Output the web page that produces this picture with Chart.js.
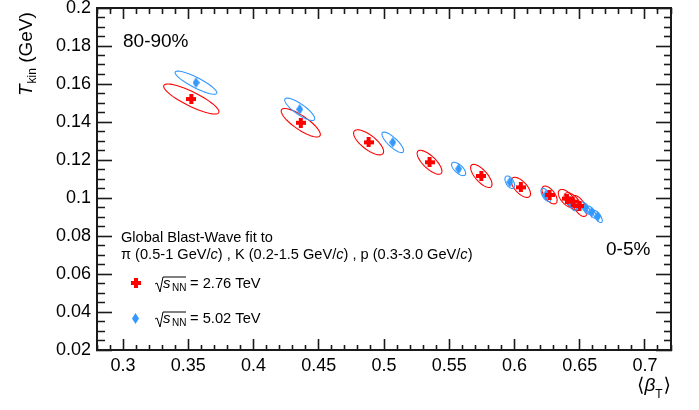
<!DOCTYPE html>
<html>
<head>
<meta charset="utf-8">
<script src="https://cdn.jsdelivr.net/npm/chart.js@4.4.1/dist/chart.umd.min.js"></script>
<style>
    html, body { margin: 0; padding: 0; background: #fff; }
</style>
</head>
<body>
<canvas id="chart" width="699" height="410"></canvas>
<script>
// 2.76 TeV (red crosses): <beta_T>, T_kin and fit-contour widths
const redBeta = [0.3523, 0.4362, 0.4882, 0.5349, 0.5746, 0.6049, 0.6269, 0.6402, 0.6446, 0.6498];
const redTkin = [0.1521, 0.1396, 0.1293, 0.1188, 0.1116, 0.1056, 0.1016, 0.0997, 0.0981, 0.0958];
const redSigBeta = [0.0212, 0.0150, 0.0115, 0.0095, 0.0082, 0.0074, 0.0058, 0.0066, 0.0065, 0.0058];
const redSigT = [0.0079, 0.0075, 0.0066, 0.0063, 0.0061, 0.0053, 0.0047, 0.0048, 0.0047, 0.0055];
const redRho = [-0.85, -0.82, -0.73, -0.74, -0.72, -0.64, -0.60, -0.60, -0.60, -0.60];

// 5.02 TeV (blue diamonds)
const blueBeta = [0.3559, 0.4354, 0.5067, 0.5572, 0.5964, 0.6241, 0.6438, 0.6546, 0.6592, 0.6638];
const blueTkin = [0.1607, 0.1467, 0.1293, 0.1153, 0.1083, 0.1016, 0.0972, 0.0947, 0.0926, 0.0903];
const blueSigBeta = [0.0160, 0.0115, 0.0083, 0.0054, 0.0037, 0.0038, 0.0038, 0.0035, 0.0035, 0.0035];
const blueSigT = [0.0061, 0.0059, 0.0054, 0.0035, 0.0033, 0.0035, 0.0039, 0.0032, 0.0032, 0.0032];
const blueRho = [-0.87, -0.83, -0.81, -0.65, -0.50, -0.60, -0.70, -0.70, -0.70, -0.70];

// axis ticks (labelled majors)
const xTicks = [0.3, 0.35, 0.4, 0.45, 0.5, 0.55, 0.6, 0.65, 0.7];
const xTickLabels = ['0.3', '0.35', '0.4', '0.45', '0.5', '0.55', '0.6', '0.65', '0.7'];
const yTicks = [0.02, 0.04, 0.06, 0.08, 0.1, 0.12, 0.14, 0.16, 0.18, 0.2];
const yTickLabels = ['0.02', '0.04', '0.06', '0.08', '0.1', '0.12', '0.14', '0.16', '0.18', '0.2'];

// all tick marks, majors plus minors
const xAllTicks = Array.from({ length: 45 }, (_, k) => +(0.28 + k * 0.01).toFixed(2));
const yAllTicks = Array.from({ length: 37 }, (_, k) => +(0.02 + k * 0.005).toFixed(3));

const RED = '#ff0000';
const BLUE = '#3399ff';
const FONT = '"Liberation Sans", Arial, Helvetica, sans-serif';

const findTick = (list, v) => list.findIndex(t => Math.abs(t - v) < 1e-9);

function makeCross(color) {
    const c = document.createElement('canvas');
    c.width = 10; c.height = 10;
    const g = c.getContext('2d');
    g.fillStyle = color;
    g.fillRect(0, 3, 10, 4);
    g.fillRect(3, 0, 4, 10);
    return c;
}

function makeDiamond(color) {
    const c = document.createElement('canvas');
    c.width = 7; c.height = 11;
    const g = c.getContext('2d');
    g.fillStyle = color;
    g.beginPath();
    g.moveTo(3.5, 0); g.lineTo(7, 5.5); g.lineTo(3.5, 11); g.lineTo(0, 5.5);
    g.closePath();
    g.fill();
    return c;
}

const crossImg = makeCross(RED);
const diamondImg = makeDiamond(BLUE);

function toPoints(xs, ys) {
    return xs.map((v, i) => ({ x: v, y: ys[i] }));
}

// inward tick marks: negative tickLength, minors shortened with a dash
function tickGrid(len, majors, minorDash) {
    return {
        display: true,
        drawOnChartArea: false,
        drawTicks: true,
        tickLength: -len,
        color: '#1a1a1a',
        tickColor: '#1a1a1a',
        tickWidth: 1.6,
        tickBorderDash: (c) => (c.tick && findTick(majors, c.tick.value) >= 0) ? [] : minorDash
    };
}

const frameBorder = { display: true, color: '#1a1a1a', width: 2 };

// fit contours drawn through the chart scales
const contours = {
    id: 'contours',
    beforeDatasetsDraw(chart) {
        const { ctx, chartArea: a, scales: { x, y } } = chart;
        const sets = [
            [redBeta, redTkin, redSigBeta, redSigT, redRho, RED],
            [blueBeta, blueTkin, blueSigBeta, blueSigT, blueRho, BLUE]
        ];
        ctx.save();
        ctx.beginPath();
        ctx.rect(a.left, a.top, a.right - a.left, a.bottom - a.top);
        ctx.clip();
        ctx.lineWidth = 1.1;
        sets.forEach(([bx, ty, sb, st, rho, col]) => {
            ctx.strokeStyle = col;
            bx.forEach((cx, i) => {
                const r = rho[i];
                const q = Math.sqrt(1 - r * r);
                ctx.beginPath();
                for (let k = 0; k <= 72; k++) {
                    const t = k / 72 * Math.PI * 2;
                    const vx = cx + sb[i] * Math.cos(t);
                    const vy = ty[i] + st[i] * (r * Math.cos(t) + q * Math.sin(t));
                    const px = x.getPixelForValue(vx);
                    const py = y.getPixelForValue(vy);
                    if (k === 0) ctx.moveTo(px, py); else ctx.lineTo(px, py);
                }
                ctx.closePath();
                ctx.stroke();
            });
        });
        ctx.restore();
    }
};

function drawRuns(ctx, x, y, runs) {
    runs.forEach(([text, font]) => {
        ctx.font = font;
        ctx.fillText(text, x, y);
        x += ctx.measureText(text).width;
    });
    return x;
}

function drawSqrtEntry(ctx, x, base, label) {
    ctx.strokeStyle = '#000';
    ctx.lineWidth = 1;
    ctx.beginPath();
    ctx.moveTo(x, base - 4);
    ctx.lineTo(x + 2, base - 5);
    ctx.lineTo(x + 5, base + 4);
    ctx.lineTo(x + 8, base - 11);
    ctx.lineTo(x + 31, base - 11);
    ctx.stroke();
    ctx.fillStyle = '#000';
    ctx.font = 'italic 15px ' + FONT;
    ctx.fillText('s', x + 8, base);
    ctx.font = '10px ' + FONT;
    ctx.fillText('NN', x + 17, base + 3);
    ctx.font = '14.7px ' + FONT;
    ctx.fillText('= ' + label, x + 35, base);
}

// titles and the text boxes
const decorations = {
    id: 'decorations',
    afterDraw(chart) {
        const ctx = chart.ctx;
        ctx.save();
        ctx.fillStyle = '#000';
        ctx.textAlign = 'left';
        ctx.textBaseline = 'alphabetic';

        // y title
        ctx.save();
        ctx.translate(32, 96);
        ctx.rotate(-Math.PI / 2);
        let tx = drawRuns(ctx, 0, 0, [['T', 'italic 19px ' + FONT]]);
        ctx.font = '12px ' + FONT;
        ctx.fillText('kin', tx + 1, 4);
        tx += ctx.measureText('kin').width + 1;
        ctx.font = '19px ' + FONT;
        ctx.fillText(' (GeV)', tx, 0);
        ctx.restore();

        // x title
        let bx = 637;
        ctx.font = '19px "DejaVu Sans", ' + FONT;
        ctx.fillText('\u27E8', bx, 391);
        bx += ctx.measureText('\u27E8').width;
        ctx.font = 'italic 19px ' + FONT;
        ctx.fillText('\u03B2', bx, 391);
        bx += ctx.measureText('\u03B2').width;
        ctx.font = '12px ' + FONT;
        ctx.fillText('T', bx, 398);
        bx += ctx.measureText('T').width + 1;
        ctx.font = '19px "DejaVu Sans", ' + FONT;
        ctx.fillText('\u27E9', bx, 391);

        // centrality labels
        ctx.font = '19px ' + FONT;
        ctx.fillText('80-90%', 123, 47);
        ctx.fillText('0-5%', 606, 255);

        // legend
        ctx.font = '14.6px ' + FONT;
        ctx.fillText('Global Blast-Wave fit to', 121, 242);
        const up = '14.6px ' + FONT;
        const it = 'italic 14.6px ' + FONT;
        drawRuns(ctx, 121, 259, [
            ['\u03C0 (0.5-1 GeV/', up], ['c', it], [') , K (0.2-1.5 GeV/', up], ['c', it],
            [') , p (0.3-3.0 GeV/', up], ['c', it], [')', up]
        ]);
        ctx.drawImage(crossImg, 131, 278);
        ctx.drawImage(diamondImg, 132, 313);
        drawSqrtEntry(ctx, 155, 288, '2.76 TeV');
        drawSqrtEntry(ctx, 155, 323, '5.02 TeV');
        ctx.restore();
    }
};

new Chart(document.getElementById('chart'), {
    type: 'scatter',
    data: {
        datasets: [{
            label: '2.76 TeV',
            data: toPoints(redBeta, redTkin),
            pointStyle: crossImg,
            showLine: false
        }, {
            label: '5.02 TeV',
            data: toPoints(blueBeta, blueTkin),
            pointStyle: diamondImg,
            showLine: false
        }]
    },
    options: {
        responsive: false,
        animation: false,
        layout: { padding: 0 },
        plugins: {
            legend: { display: false },
            tooltip: { enabled: false }
        },
        scales: {
            x: {
                type: 'linear',
                position: 'bottom',
                min: 0.28,
                max: 0.72,
                grid: tickGrid(11, xTicks, [6, 100]),
                border: frameBorder,
                afterBuildTicks: (s) => { s.ticks = xAllTicks.map(v => ({ value: v })); },
                afterFit: (s) => { s.height = 60; s.paddingLeft = 0; s.paddingRight = 0; },
                ticks: {
                    padding: 16,
                    color: '#000',
                    font: { family: FONT, size: 18 },
                    autoSkip: false,
                    minRotation: 0,
                    maxRotation: 0,
                    callback: (v) => { const i = findTick(xTicks, v); return i >= 0 ? xTickLabels[i] : ''; }
                }
            },
            x2: {
                type: 'linear',
                position: 'top',
                min: 0.28,
                max: 0.72,
                grid: tickGrid(11, xTicks, [0, 5, 6, 100]),
                border: frameBorder,
                afterBuildTicks: (s) => { s.ticks = xAllTicks.map(v => ({ value: v })); },
                afterFit: (s) => { s.height = 8; s.paddingLeft = 0; s.paddingRight = 0; },
                ticks: { display: false, autoSkip: false, minRotation: 0, maxRotation: 0 }
            },
            y: {
                type: 'linear',
                position: 'left',
                min: 0.02,
                max: 0.2,
                grid: tickGrid(15, yTicks, [0, 7, 8, 100]),
                border: frameBorder,
                afterBuildTicks: (s) => { s.ticks = yAllTicks.map(v => ({ value: v })); },
                afterFit: (s) => { s.width = 97; s.paddingTop = 0; s.paddingBottom = 0; },
                ticks: {
                    padding: 21,
                    color: '#000',
                    font: { family: FONT, size: 18 },
                    autoSkip: false,
                    callback: (v) => { const i = findTick(yTicks, v); return i >= 0 ? yTickLabels[i] : ''; }
                }
            },
            y2: {
                type: 'linear',
                position: 'right',
                min: 0.02,
                max: 0.2,
                grid: tickGrid(15, yTicks, [8, 100]),
                border: frameBorder,
                afterBuildTicks: (s) => { s.ticks = yAllTicks.map(v => ({ value: v })); },
                afterFit: (s) => { s.width = 28; s.paddingTop = 0; s.paddingBottom = 0; },
                ticks: { display: false, autoSkip: false }
            }
        }
    },
    plugins: [contours, decorations]
});
</script>
</body>
</html>
